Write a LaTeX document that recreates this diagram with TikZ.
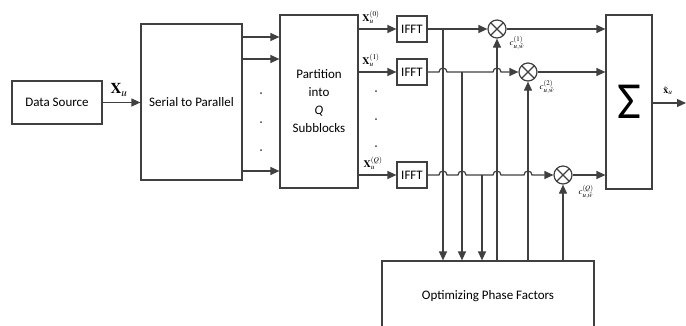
\documentclass[tikz,border=0pt]{standalone}
\usepackage{mathptmx}
\usepackage{fontspec}
\setmainfont{Carlito}
\usetikzlibrary{arrows.meta}
\definecolor{linegray}{HTML}{404040}

\begin{document}
\begin{tikzpicture}[
  x=1pt, y=-1pt,
  every node/.style={font=\fontsize{13}{15}\selectfont, inner sep=1pt},
  blk/.style={draw=linegray, line width=1.2pt, align=center},
  wire/.style={draw=linegray, line width=1.2pt},
  arr/.style={wire, -{Triangle[length=9pt,width=8pt]}},
  mult/.style={circle, draw=linegray, line width=1.2pt, minimum size=18pt, inner sep=0pt,
    path picture={\draw[wire] (path picture bounding box.north west) -- (path picture bounding box.south east)
      (path picture bounding box.south west) -- (path picture bounding box.north east);}},
  lab/.style={font=\fontsize{10}{11}\selectfont, inner sep=0pt},
  small/.style={font=\fontsize{9}{10}\selectfont, inner sep=0pt},
]
\useasboundingbox (0,0) rectangle (686,325);
\node[blk, minimum width=90pt, minimum height=43pt] (src) at (57,102.5) {Data Source};
\node[blk, minimum width=101pt, minimum height=156pt] (s2p) at (191.5,102) {Serial to Parallel};
\node[blk, minimum width=78pt, minimum height=173pt, font=\fontsize{13}{18}\selectfont] (part) at (319,101.5) {Partition\\into\\\textit{Q}\\Subblocks};
\node[blk, minimum width=30pt, minimum height=26pt] (ifft1) at (412,29) {IFFT};
\node[blk, minimum width=30pt, minimum height=26pt] (ifft2) at (412,72) {IFFT};
\node[blk, minimum width=30pt, minimum height=26pt] (ifft3) at (412,175) {IFFT};
\node[mult] (mul1) at (497,29) {};
\node[mult] (mul2) at (528,72) {};
\node[mult] (mul3) at (563,175) {};
\node[blk, minimum width=46pt, minimum height=174pt, font=\fontsize{52}{52}\selectfont] (sum) at (629,102) {Σ};
\node[blk, minimum width=212pt, minimum height=70pt] (opt) at (488,296) {Optimizing Phase Factors};
\coordinate (b1) at (443,29);
\coordinate (b2) at (462,72);
\coordinate (b3) at (482,175);
\coordinate (out) at (686,103);

\draw[arr] (src.east) -- (src.east -| s2p.west);
\node[font=\fontsize{15}{15}\selectfont, inner sep=0pt] (xu) at (119,90) {$\mathbf{X}_u$};
\foreach \y in {37,59,171}
  \draw[arr] (s2p.east |- 0,\y) -- (part.west |- 0,\y);
\foreach \y in {93,122,150}
  \fill[linegray] (261,\y) circle (1pt);

\draw[arr] (part.east |- ifft1) -- (ifft1.west);
\draw[arr] (part.east |- ifft2) -- (ifft2.west);
\draw[arr] (part.east |- ifft3) -- (ifft3.west);
\node[lab] (x0) at (371,17) {$\mathbf{X}_u^{(0)}$};
\node[lab] (x1) at (371,60) {$\mathbf{X}_u^{(1)}$};
\node[lab] (xq) at (373,163) {$\mathbf{X}_u^{(Q)}$};
\foreach \y in {91,119,146}
  \fill[linegray] (376,\y) circle (1pt);

\draw[arr] (ifft1.east) -- (mul1.west);
\draw[arr] (ifft2.east) -- (439,72) arc[start angle=180, end angle=0, radius=4pt]
  -- (493,72) arc[start angle=180, end angle=0, radius=4pt] -- (mul2.west);
\draw[arr] (ifft3.east) -- (439,175) arc[start angle=180, end angle=0, radius=4pt]
  -- (458,175) arc[start angle=180, end angle=0, radius=4pt]
  -- (493,175) arc[start angle=180, end angle=0, radius=4pt]
  -- (524,175) arc[start angle=180, end angle=0, radius=4pt] -- (mul3.west);

\draw[arr] (b1) -- (b1 |- opt.north);
\draw[arr] (b2) -- (b2 |- opt.north);
\draw[arr] (b3) -- (b3 |- opt.north);
\draw[arr] (mul1 |- opt.north) -- (mul1.south);
\draw[arr] (mul2 |- opt.north) -- (mul2.south);
\draw[arr] (mul3 |- opt.north) -- (mul3.south);
\node[small] (c1) at (517,43) {$c_{u,\tilde{w}}^{(1)}$};
\node[small] (c2) at (547,87) {$c_{u,\tilde{w}}^{(2)}$};
\node[small] (cq) at (586,192) {$c_{u,\tilde{w}}^{(Q)}$};

\draw[arr] (mul1.east) -- (mul1 -| sum.west);
\draw[arr] (mul2.east) -- (mul2 -| sum.west);
\draw[arr] (mul3.east) -- (mul3 -| sum.west);
\draw[arr] (sum.east |- out) -- (out);
\node[lab] (xt) at (668,91) {$\tilde{\mathbf{x}}_u$};
\end{tikzpicture}
\end{document}
